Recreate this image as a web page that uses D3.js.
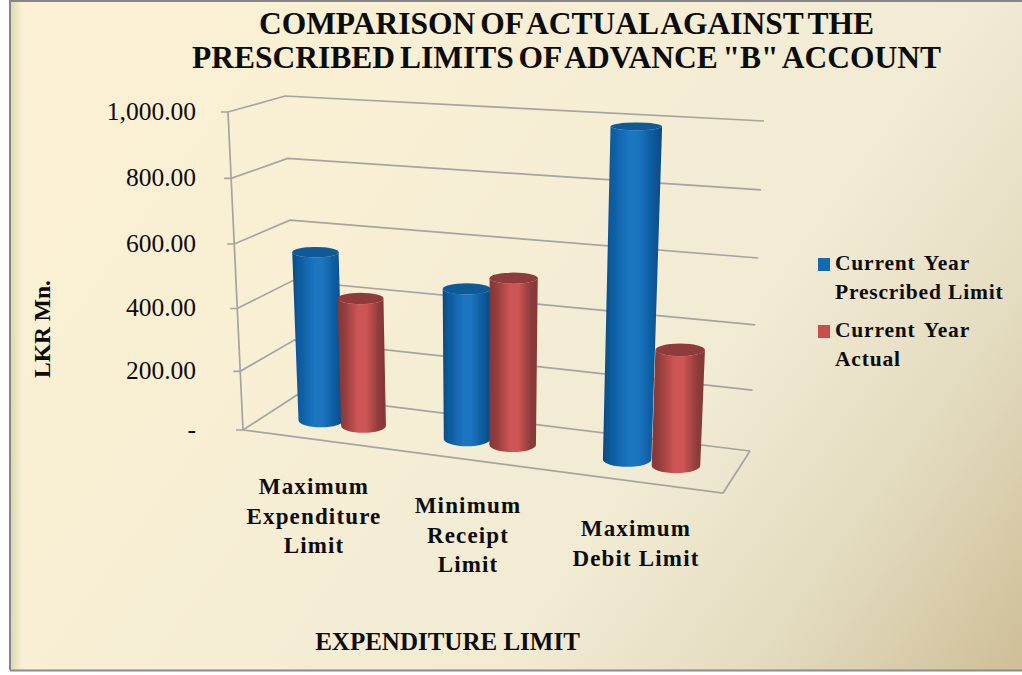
<!DOCTYPE html>
<html><head><meta charset="utf-8">
<script src="https://cdn.jsdelivr.net/npm/d3@7/dist/d3.min.js"></script>
<style>html,body{margin:0;padding:0;background:#fff}svg{display:block}text{font-family:"Liberation Serif",serif;fill:#0c0c0c}</style>
</head><body><svg id="c" width="1022" height="675"></svg>
<script>
const titleLines = ['COMPARISON OF ACTUAL AGAINST THE','PRESCRIBED LIMITS OF ADVANCE "B" ACCOUNT'];
const categories = ['Maximum Expenditure Limit','Minimum Receipt Limit','Maximum Debit Limit'];
const categoryLines = [['Maximum','Expenditure','Limit'],['Minimum','Receipt','Limit'],['Maximum','Debit Limit']];
const seriesNames = ['Current Year Prescribed Limit','Current Year Actual'];
const prescribed = [553, 480, 990];
const actual = [420, 525, 358];
const yTicks = [0,200,400,600,800,1000];
const yTickLabels = ['-','200.00','400.00','600.00','800.00','1,000.00'];

const svg = d3.select('#c');
const defs = svg.append('defs');

// background
const W=1022,H=675;
const bg = defs.append('linearGradient').attr('id','bg').attr('gradientUnits','userSpaceOnUse')
  .attr('x1',60).attr('y1',0).attr('x2',1000).attr('y2',680);
[[0,'#fbf0d3'],[.3,'#f8efd4'],[.65,'#f1ebd4'],[.82,'#e4dcc0'],[1,'#cfc09a']].forEach(s=>bg.append('stop').attr('offset',s[0]).attr('stop-color',s[1]));
const edge = defs.append('linearGradient').attr('id','edge');
edge.append('stop').attr('offset',0).attr('stop-color','#cfcf9f').attr('stop-opacity',.75);
edge.append('stop').attr('offset',1).attr('stop-color','#cfcf9f').attr('stop-opacity',0);
svg.append('rect').attr('x',10).attr('y',1).attr('width',W-10).attr('height',669).attr('fill','url(#bg)');
svg.append('rect').attr('x',10).attr('y',1).attr('width',12).attr('height',669).attr('fill','url(#edge)');
svg.append('path').attr('d','M10,670V1H1022').attr('fill','none').attr('stroke','#85858a').attr('stroke-width',2);
svg.append('path').attr('d','M10,670.5H1022').attr('fill','none').attr('stroke','#8b8b88').attr('stroke-width',2);

const soft=defs.append('filter').attr('id','soft').attr('x','-5%').attr('y','-5%').attr('width','110%').attr('height','110%');
soft.append('feGaussianBlur').attr('stdDeviation',.5);

// perspective box: bilinear mapping between floor and the 1000 plane
const corners = {
  floor:{bl:[297,395],br:[750,451],fl:[243,430],fr:[723,493]},
  top:{bl:[285,96],br:[764,121],fl:[228,112],fr:[741,135]}
};
const lerp=(a,b,t)=>a+(b-a)*t;
const tScale = d3.scalePow().exponent(1.05).domain([0,1000]).range([0,1]);
function plane(p,u,v){
  return [0,1].map(i=>lerp(lerp(p.bl[i],p.br[i],u),lerp(p.fl[i],p.fr[i],u),v));
}
function P(u,v,val){
  const a=plane(corners.floor,u,v),b=plane(corners.top,u,v),t=tScale(val);
  return [lerp(a[0],b[0],t),lerp(a[1],b[1],t)];
}
const line=d3.line();
const grid=svg.append('g').attr('fill','none').attr('stroke','#a4a4a0').attr('stroke-width',1.7).attr('filter','url(#soft)');
yTicks.forEach(val=>{
  const a=P(0,1,val),b=P(0,0,val),c=P(1,0,val);
  grid.append('path').attr('d',line([[a[0]-7,a[1]],a,b,c]));
});
grid.append('path').attr('d',line([P(0,1,0),P(0,1,1000)]));
grid.append('path').attr('d',line([P(0,1,0),P(1,1,0),P(1,0,0)]));

// tick labels
svg.append('g').selectAll('text').data(yTicks).join('text')
  .attr('x',196).attr('y',d=>P(0,1,d)[1]+8).attr('text-anchor','end')
  .attr('font-size',25.5).text((d,i)=>yTickLabels[i]);

// bars
const uCat=d3.scaleLinear().domain([0,1,2]).range([.158,.474,.82]);
const rowV=.53;
const offScale=d3.scaleLinear().domain([0,1]).range([.044,.054]);
const halfScale=d3.scaleLinear().domain([0,1]).range([.047,.053]);
const ryScale=d3.scaleLinear().domain([120,470]).range([3.8,7.6]);
[['blue','#06487f','#1a74bf','#0c5a9c'],['red','#853737','#ce5454','#8e3b3b']].forEach(c=>{
  const g=defs.append('linearGradient').attr('id','g'+c[0]);
  [[0,c[1]],[.12,c[3]],[.42,c[2]],[.6,c[2]],[.85,c[3]],[1,c[1]]].forEach(s=>g.append('stop').attr('offset',s[0]).attr('stop-color',s[1]));
});
const series=[{vals:prescribed,id:'blue',top:'#0b5a97',sign:-1},{vals:actual,id:'red',top:'#8e3a3a',sign:1}];
const barsG=svg.append('g').attr('filter','url(#soft)');
categories.forEach((cat,ci)=>{
  series.forEach(s=>{
    const c0=uCat(ci), uc=c0+s.sign*offScale(c0), half=halfScale(c0), val=s.vals[ci];
    const bl=P(uc-half,rowV,0),br=P(uc+half,rowV,0),tl=P(uc-half,rowV,val),tr=P(uc+half,rowV,val);
    const ryb=ryScale((bl[1]+br[1])/2), ryt=ryScale((tl[1]+tr[1])/2);
    const cyb=(bl[1]+br[1])/2, cyt=(tl[1]+tr[1])/2;
    const rxb=(br[0]-bl[0])/2, rxt=(tr[0]-tl[0])/2;
    const side=`M${tl[0]},${cyt}L${bl[0]},${cyb}A${rxb},${ryb} 0 0 0 ${br[0]},${cyb}L${tr[0]},${cyt}A${rxt},${ryt} 0 0 1 ${tl[0]},${cyt}Z`;
    barsG.append('path').attr('d',side).attr('fill','url(#g'+s.id+')');
    barsG.append('ellipse').attr('cx',(tl[0]+tr[0])/2).attr('cy',cyt).attr('rx',rxt).attr('ry',ryt).attr('fill',s.top);
  });
});

// category labels
const catPos=[[314,494],[468,513],[636,536]];
categoryLines.forEach((ls,i)=>{
  ls.forEach((t,j)=>{
    svg.append('text').attr('x',catPos[i][0]).attr('y',catPos[i][1]+j*29.7).attr('text-anchor','middle')
      .attr('font-weight','bold').attr('font-size',23).attr('letter-spacing',1.15).text(t);
  });
});

// titles
const tl=[[566.5,34],[566.5,68]];
titleLines.forEach((t,i)=>{
  svg.append('text').attr('x',tl[i][0]).attr('y',tl[i][1]).attr('text-anchor','middle')
   .attr('font-weight','bold').attr('font-size',31.5).attr('word-spacing',-3).text(t);
});
svg.append('text').attr('transform','translate(50,329) rotate(-90)').attr('text-anchor','middle')
  .attr('font-weight','bold').attr('font-size',23.5).text('LKR Mn.');
svg.append('text').attr('x',447.5).attr('y',650).attr('text-anchor','middle')
  .attr('font-weight','bold').attr('font-size',25).text('EXPENDITURE LIMIT');

// legend
const leg=svg.append('g');
const legLines=[['Current Year','Prescribed  Limit'],['Current Year','Actual']];
const legColors=['#1469b3','#c94f4f'];
const legY=[270,337];
legLines.forEach((ls,i)=>{
  leg.append('rect').attr('x',818).attr('y',legY[i]-12).attr('width',12).attr('height',13).attr('fill',legColors[i]);
  ls.forEach((t,j)=>leg.append('text').attr('x',835).attr('y',legY[i]+j*28.5).style('white-space','pre')
    .attr('font-weight','bold').attr('font-size',21.5).attr('letter-spacing',.8)
    .attr('word-spacing',t.indexOf('  ')>=0?-3:3).text(t));
});
</script></body></html>
